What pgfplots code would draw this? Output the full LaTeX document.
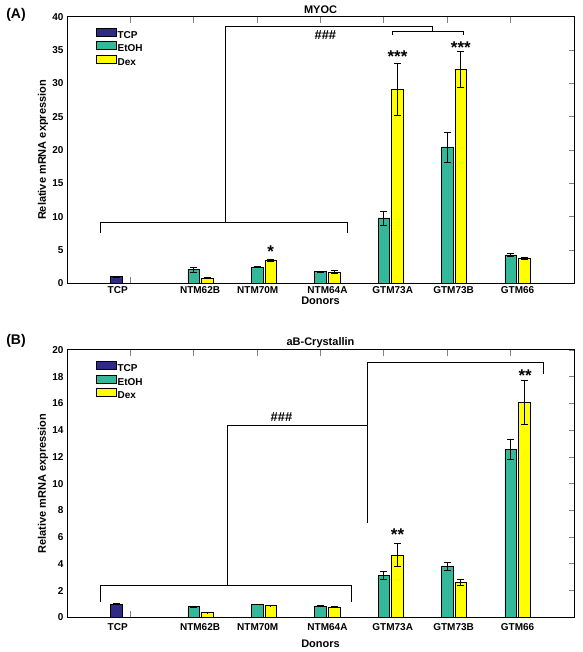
\documentclass[border=0pt]{standalone}
\usepackage{fontspec}
\setmainfont{Liberation Sans}
\usepackage{pgfplots}
\pgfplotsset{compat=1.18}
\definecolor{ctcp}{RGB}{46,42,134}
\definecolor{cetoh}{RGB}{51,184,154}
\definecolor{cdex}{RGB}{255,255,0}
\pgfplotsset{
 mybar/.style={ybar, bar width=0.185, bar shift=0pt, draw=black, line width=0.5pt, forget plot,
   error bars/.cd, y dir=both, y explicit,
   error bar style={line width=0.8pt, black},
   error mark options={rotate=90, mark size=3.5pt, line width=0.8pt, black}},
 myaxis/.style={
  scale only axis, width=507pt, xmin=0, xmax=8, ymin=0,
  clip=false, axis line style={line width=1pt},
  /pgf/number format/assume math mode=true,
  tick align=inside,
  xtick={0.8,2.1,3.01,4.11,5.14,6.1,7.11},
  xticklabels={TCP,NTM62B,NTM70M,NTM64A,GTM73A,GTM73B,GTM66},
  major x tick style={draw=none},
  minor xtick={1,2,3,4,5,6,7},
  minor tick length=6pt,
  minor x tick style={line width=0.8pt},
  xtick pos=both,
  major tick length=5pt,
  ytick pos=right, yticklabel pos=left,
  y tick style={line width=0.8pt},
  tick label style={font=\bfseries\fontsize{10}{12}\selectfont},
  label style={font=\bfseries\fontsize{11}{13}\selectfont},
  title style={font=\bfseries\fontsize{11}{13}\selectfont, at={(axis description cs:0.5,1)}, anchor=center, yshift=1pt},
  ylabel style={at={(axis description cs:0,0.5)}, anchor=center, yshift=24pt},
  ylabel={Relative mRNA expression},
  xlabel={Donors},
  legend image code/.code={\draw[##1] (0pt,-0.5pt) rectangle (20pt,7.5pt);},
  legend style={draw=none, fill=none, at={(axis description cs:0.057,0.958)}, anchor=north west,
     inner sep=0pt, row sep=0.3pt, nodes={inner sep=1pt, font=\bfseries\fontsize{10}{12}\selectfont}},
  legend cell align=left,
 }
}
\begin{document}
\begin{tikzpicture}[x=1pt,y=1pt]
\useasboundingbox (0,0) rectangle (582,652);
\node[font=\bfseries\fontsize{14}{16}\selectfont] at (16,637.5) {(A)};
\node[font=\bfseries\fontsize{14}{16}\selectfont] at (16,311) {(B)};
% ---------- Panel A ----------
\begin{axis}[myaxis, at={(67pt,368.7pt)}, anchor=south west, height=266.6pt,
  ymax=40, ytick={0,5,...,40}, title={MYOC},
  xlabel style={at={(axis description cs:0.5,0)}, anchor=center, yshift=-17pt}]
\addlegendimage{fill=ctcp, draw=black, line width=0.5pt}
\addlegendimage{fill=cetoh, draw=black, line width=0.5pt}
\addlegendimage{fill=cdex, draw=black, line width=0.5pt}
\legend{TCP,EtOH,Dex}
\addplot[fill=ctcp, mybar] coordinates {(0.78,1.0) +- (0,0.1)};
\addplot[fill=cetoh, mybar] coordinates {
 (2,2.05) +- (0,0.4) (3,2.45) +- (0,0.05) (4,1.75) +- (0,0.05)
 (5,9.8) +- (0,1.05) (6,20.45) +- (0,2.25) (7,4.25) +- (0,0.25)};
\addplot[fill=cdex, mybar] coordinates {
 (2.215,0.75) +- (0,0.08) (3.215,3.45) +- (0,0.12) (4.215,1.7) +- (0,0.25)
 (5.215,29.1) +- (0,3.9) (6.215,32.1) +- (0,2.65) (7.215,3.8) +- (0,0.15)};
\draw[line width=0.8pt] (axis cs:0.528,7.5) -- (axis cs:0.528,9.2) -- (axis cs:4.424,9.2) -- (axis cs:4.424,7.6);
\draw[line width=0.8pt] (axis cs:2.494,9.2) -- (axis cs:2.494,38.6) -- (axis cs:5.765,38.6) -- (axis cs:5.765,37.85);
\draw[line width=0.8pt] (axis cs:5.128,37.2) -- (axis cs:5.128,37.85) -- (axis cs:6.259,37.85) -- (axis cs:6.259,37.2);
\node[font=\bfseries\fontsize{13}{15}\selectfont] at (axis cs:4.077,37.3) {\#\#\#};
\node[font=\bfseries\fontsize{17}{19}\selectfont, yshift=-3.5pt] at (axis cs:5.215,34.5) {***};
\node[font=\bfseries\fontsize{17}{19}\selectfont, yshift=-3.5pt] at (axis cs:6.215,35.9) {***};
\node[font=\bfseries\fontsize{17}{19}\selectfont, yshift=-3.5pt] at (axis cs:3.215,5.25) {*};
\end{axis}
% ---------- Panel B ----------
\begin{axis}[myaxis, at={(67pt,34.7pt)}, anchor=south west, height=267.3pt,
  ymax=20, ytick={0,2,...,20}, title={aB-Crystallin},
  xticklabel style={yshift=-3pt},
  xlabel style={at={(axis description cs:0.5,0)}, anchor=center, yshift=-26pt}]
\addlegendimage{fill=ctcp, draw=black, line width=0.5pt}
\addlegendimage{fill=cetoh, draw=black, line width=0.5pt}
\addlegendimage{fill=cdex, draw=black, line width=0.5pt}
\legend{TCP,EtOH,Dex}
\addplot[fill=ctcp, mybar] coordinates {(0.78,1.0) +- (0,0.03)};
\addplot[fill=cetoh, mybar] coordinates {
 (2,0.79) +- (0,0.03) (3,0.98) +- (0,0.02) (4,0.86) +- (0,0.03)
 (5,3.14) +- (0,0.33) (6,3.81) +- (0,0.27) (7,12.54) +- (0,0.75)};
\addplot[fill=cdex, mybar] coordinates {
 (2.215,0.35) +- (0,0.02) (3.215,0.88) +- (0,0.02) (4.215,0.78) +- (0,0.02)
 (5.215,4.66) +- (0,0.85) (6.215,2.62) +- (0,0.22) (7.215,16.08) +- (0,1.65)};
\draw[line width=0.8pt] (axis cs:0.528,1.17) -- (axis cs:0.528,2.42) -- (axis cs:4.487,2.42) -- (axis cs:4.487,1.12);
\draw[line width=0.8pt] (axis cs:2.531,2.42) -- (axis cs:2.531,14.33) -- (axis cs:4.744,14.33);
\draw[line width=0.8pt] (axis cs:4.744,7.03) -- (axis cs:4.744,19.07) -- (axis cs:7.51,19.07) -- (axis cs:7.51,18.17);
\node[font=\bfseries\fontsize{13}{15}\selectfont] at (axis cs:3.383,14.96) {\#\#\#};
\node[font=\bfseries\fontsize{17}{19}\selectfont, yshift=-3.5pt] at (axis cs:5.215,6.45) {**};
\node[font=\bfseries\fontsize{17}{19}\selectfont, yshift=-3.5pt] at (axis cs:7.23,18.37) {**};
\end{axis}
\end{tikzpicture}
\end{document}
